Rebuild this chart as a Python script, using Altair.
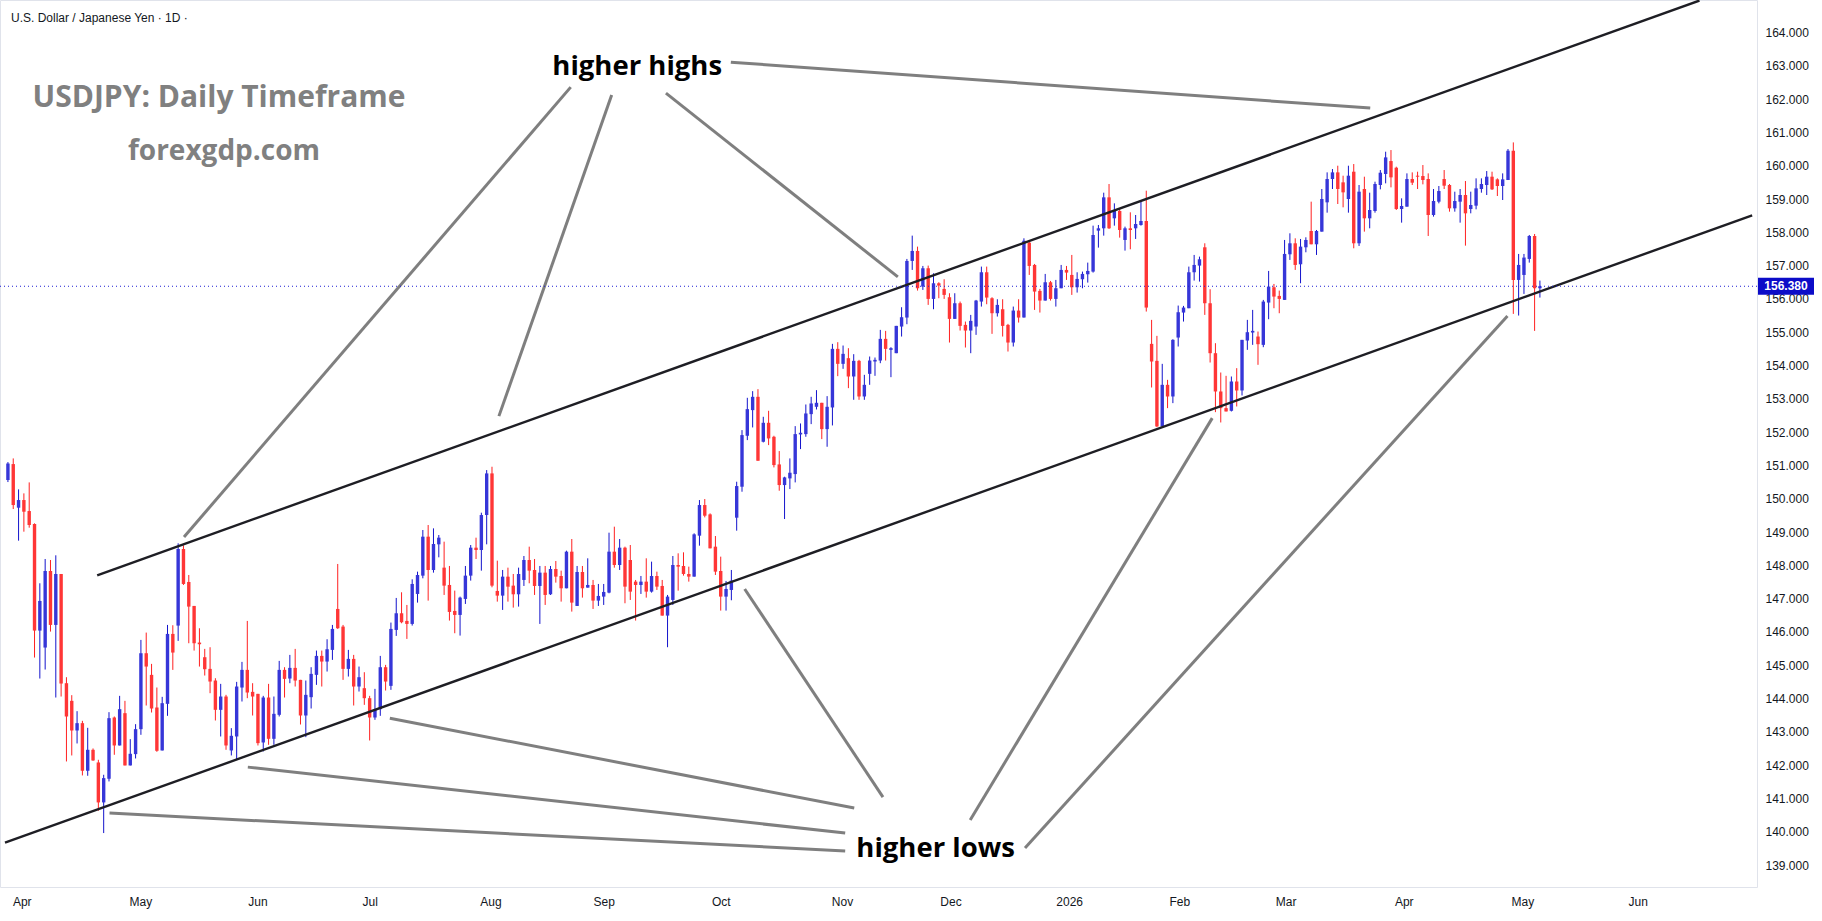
import altair as alt
import pandas as pd

# ---------------- data (daily bars, index = bar number) ----------------
opens = [150.56, 151.04, 149.73, 149.96, 149.63, 149.24, 146.04, 145.53, 147.83, 146.21,
         147.74, 144.46, 143.93, 143.04, 143.26, 141.83, 142.46, 142.08, 140.88, 141.59,
         143.43, 142.59, 143.56, 141.99, 142.33, 143.08, 145.36, 144.71, 143.73, 142.44,
         143.84, 145.94, 146.19, 148.49, 147.50, 146.78, 145.68, 145.24, 144.89, 144.54,
         143.66, 144.06, 142.44, 142.86, 144.33, 144.86, 144.20, 144.14, 142.68, 144.03,
         142.79, 143.51, 144.86, 144.60, 144.92, 144.56, 143.49, 144.04, 144.71, 145.28,
         145.11, 145.46, 146.69, 146.16, 144.89, 145.19, 144.36, 144.31, 144.01, 143.43,
         143.68, 144.94, 144.38, 146.06, 146.56, 146.33, 146.24, 147.14, 147.69, 148.86,
         147.86, 148.63, 147.93, 147.41, 146.63, 146.51, 146.99, 147.69, 148.53, 148.46,
         149.51, 150.76, 147.23, 147.09, 147.66, 147.39, 147.13, 147.56, 148.16, 147.86,
         147.38, 147.78, 147.13, 147.89, 147.68, 147.31, 148.41, 146.78, 147.80, 147.33,
         147.41, 146.94, 147.06, 147.18, 148.41, 148.01, 148.53, 148.16, 147.51, 147.41,
         147.51, 147.21, 147.68, 147.38, 146.49, 146.96, 148.01, 147.98, 147.74, 147.66,
         148.89, 149.81, 149.53, 148.56, 147.83, 147.06, 147.26, 149.43, 150.36, 151.89,
         152.66, 153.06, 151.71, 152.28, 151.86, 151.03, 150.41, 150.61, 150.74, 151.93,
         151.94, 152.54, 152.76, 152.88, 152.09, 152.74, 154.50, 154.05, 154.22, 153.67,
         154.14, 153.07, 153.75, 154.15, 154.15, 154.80, 154.50, 154.37, 155.17, 155.44,
         157.14, 157.44, 156.37, 156.92, 156.00, 156.47, 156.30, 156.05, 155.40, 155.87,
         155.22, 155.05, 155.17, 155.92, 156.80, 156.02, 155.57, 155.69, 155.22, 154.69,
         155.65, 155.44, 157.69, 157.02, 156.24, 155.95, 156.50, 156.00, 156.32, 156.87,
         156.72, 156.35, 156.59, 156.74, 156.82, 158.05, 158.12, 159.05, 158.42, 158.64,
         157.77, 158.12, 158.12, 158.22, 158.34, 154.65, 154.14, 152.17, 153.42, 153.07,
         154.84, 155.59, 155.72, 156.80, 157.00, 157.55, 155.87, 154.37, 153.22, 152.72,
         152.64, 153.52, 153.25, 154.75, 155.02, 154.87, 154.62, 155.89, 156.35, 156.09,
         155.97, 157.34, 157.67, 157.04, 157.55, 158.04, 157.64, 158.02, 158.90, 159.60,
         159.80, 159.50, 159.00, 159.82, 157.67, 159.30, 158.42, 158.64, 159.42, 159.75,
         160.14, 159.94, 158.70, 158.77, 159.60, 159.70, 159.69, 159.60, 158.52, 158.92,
         159.60, 159.42, 158.72, 158.92, 159.12, 158.70, 158.80, 159.30, 159.42, 159.67,
         159.59, 159.39, 159.57, 160.45, 156.57, 156.72, 157.20, 157.89, 156.32]
highs = [151.10, 151.21, 150.28, 150.16, 150.49, 149.26, 147.46, 148.19, 148.16, 148.30,
         147.74, 144.64, 144.10, 143.62, 143.33, 143.12, 142.50, 142.16, 141.71, 143.59,
         143.46, 144.08, 143.93, 142.78, 143.23, 145.76, 145.98, 145.04, 144.33, 144.05,
         146.21, 146.20, 148.66, 148.60, 147.71, 146.78, 146.11, 145.49, 145.54, 144.61,
         144.44, 144.11, 143.11, 144.50, 145.10, 146.33, 144.46, 144.14, 144.08, 144.44,
         144.06, 145.13, 144.94, 145.31, 145.49, 144.56, 144.54, 144.94, 145.44, 145.44,
         145.78, 146.21, 148.04, 146.21, 145.46, 145.31, 144.96, 144.79, 144.08, 144.29,
         145.28, 145.01, 146.28, 147.02, 147.19, 146.81, 147.58, 147.81, 149.06, 149.21,
         149.11, 148.91, 148.71, 147.98, 147.24, 147.06, 147.98, 148.61, 148.83, 149.58,
         150.86, 150.96, 148.14, 147.86, 147.93, 147.74, 147.93, 148.28, 148.56, 148.19,
         147.98, 147.98, 147.98, 148.13, 147.84, 148.44, 148.79, 147.98, 147.98, 148.21,
         147.56, 147.44, 147.44, 148.98, 149.16, 148.79, 148.56, 148.61, 147.56, 147.68,
         148.21, 148.11, 147.81, 147.56, 147.11, 148.28, 148.36, 148.39, 147.96, 148.96,
         149.96, 149.99, 149.56, 148.88, 148.26, 147.53, 147.86, 150.51, 152.06, 153.03,
         153.23, 153.29, 152.46, 152.64, 151.89, 151.43, 150.66, 151.21, 152.18, 152.26,
         152.83, 153.06, 153.26, 152.88, 153.08, 154.65, 154.70, 154.60, 154.52, 154.34,
         154.17, 153.72, 154.27, 154.24, 155.07, 155.04, 154.55, 155.19, 155.75, 157.20,
         157.90, 157.57, 156.99, 157.00, 156.77, 156.50, 156.59, 156.17, 156.17, 155.92,
         155.32, 155.52, 155.97, 156.97, 156.97, 156.05, 155.99, 155.99, 155.25, 155.77,
         155.99, 157.82, 157.74, 157.05, 156.30, 156.75, 156.54, 156.57, 157.02, 156.99,
         157.32, 156.80, 156.82, 157.09, 158.20, 158.22, 159.19, 159.45, 158.87, 158.70,
         158.17, 158.60, 158.52, 158.92, 159.25, 155.37, 154.89, 154.05, 153.57, 154.79,
         155.80, 155.79, 156.97, 157.32, 157.27, 157.67, 156.29, 154.67, 153.79, 153.69,
         153.67, 153.92, 154.77, 155.37, 155.67, 155.02, 155.97, 156.84, 156.45, 156.25,
         157.77, 157.97, 157.82, 157.80, 157.85, 158.92, 158.07, 159.30, 159.80, 159.90,
         160.00, 159.70, 160.00, 160.05, 159.42, 159.67, 159.19, 159.52, 159.87, 160.42,
         160.47, 159.97, 159.02, 159.77, 159.80, 159.82, 160.02, 159.77, 159.30, 159.39,
         159.87, 159.45, 159.22, 159.30, 159.54, 159.22, 159.62, 159.62, 159.84, 159.82,
         159.62, 159.77, 160.50, 160.70, 157.35, 157.35, 157.92, 157.95, 156.55]
lows = [150.50, 149.69, 148.74, 149.01, 149.13, 145.23, 144.60, 144.87, 146.01, 144.03,
        144.06, 142.11, 142.29, 142.65, 141.69, 141.68, 142.13, 140.63, 139.96, 141.51,
        142.31, 142.59, 141.99, 141.99, 142.20, 142.91, 143.79, 143.58, 142.40, 142.44,
        143.48, 144.86, 145.73, 147.41, 145.66, 145.44, 144.96, 144.69, 144.16, 143.34,
        142.86, 142.46, 142.29, 142.16, 143.91, 144.01, 143.49, 142.59, 142.41, 142.61,
        142.61, 143.46, 144.03, 144.46, 144.36, 143.22, 142.84, 143.70, 144.41, 144.36,
        144.81, 145.16, 146.09, 144.56, 144.66, 143.79, 144.21, 143.81, 142.74, 143.36,
        143.48, 144.24, 144.26, 145.88, 146.26, 145.79, 146.19, 146.88, 147.61, 146.94,
        147.78, 148.24, 147.11, 146.34, 145.96, 145.89, 146.84, 147.54, 148.19, 147.84,
        148.63, 147.34, 146.91, 146.66, 146.91, 146.73, 146.76, 147.38, 147.46, 147.11,
        146.24, 146.81, 147.11, 147.48, 146.91, 147.31, 146.61, 146.78, 147.03, 147.33,
        146.69, 146.78, 146.81, 147.16, 147.93, 147.86, 146.86, 146.96, 146.34, 147.14,
        147.03, 147.18, 147.26, 146.49, 145.54, 146.81, 147.24, 147.69, 147.51, 147.66,
        148.59, 149.44, 148.51, 147.71, 146.64, 146.64, 146.95, 149.04, 150.21, 151.76,
        152.14, 151.14, 151.69, 151.61, 150.94, 150.24, 149.39, 150.29, 150.49, 151.49,
        151.86, 152.24, 152.68, 151.79, 151.56, 152.20, 153.68, 153.90, 153.32, 152.97,
        152.97, 152.97, 153.42, 153.69, 154.07, 154.15, 153.65, 154.37, 154.87, 155.24,
        156.87, 156.25, 156.27, 155.82, 155.69, 156.02, 156.00, 154.69, 155.40, 155.05,
        154.54, 154.37, 154.92, 155.77, 155.84, 154.95, 155.47, 154.87, 154.42, 154.57,
        155.29, 155.44, 156.72, 155.67, 155.59, 155.95, 155.95, 155.77, 156.32, 156.57,
        156.12, 156.19, 156.32, 156.49, 156.79, 157.54, 157.90, 158.10, 158.20, 157.84,
        157.45, 157.49, 157.80, 158.20, 155.62, 153.34, 152.15, 152.17, 152.72, 152.87,
        154.57, 155.32, 155.72, 156.55, 156.52, 155.52, 154.09, 152.60, 152.29, 152.62,
        152.62, 152.77, 153.10, 154.47, 154.62, 154.02, 154.55, 155.39, 155.72, 155.57,
        155.97, 157.17, 156.87, 156.47, 157.40, 157.64, 157.32, 158.02, 158.59, 159.30,
        158.85, 158.75, 158.59, 157.52, 157.59, 158.02, 158.12, 158.59, 159.29, 159.47,
        159.35, 158.67, 158.29, 158.77, 159.42, 159.30, 159.44, 157.89, 158.47, 158.87,
        159.30, 158.62, 158.62, 158.29, 157.60, 158.57, 158.69, 159.19, 159.12, 159.27,
        159.09, 158.97, 159.57, 155.55, 155.50, 156.15, 157.09, 155.04, 156.04]
closes = [151.06, 149.81, 149.96, 149.61, 149.21, 146.04, 146.93, 147.83, 146.21, 147.74,
          144.45, 143.46, 143.04, 143.26, 141.83, 142.46, 142.14, 140.88, 141.61, 143.41,
          142.59, 143.68, 141.99, 142.34, 143.08, 145.36, 144.96, 143.70, 142.43, 143.86,
          145.94, 145.38, 148.49, 147.44, 146.76, 145.66, 145.66, 144.88, 144.51, 143.66,
          144.06, 142.59, 142.88, 144.36, 144.86, 144.18, 144.06, 142.66, 144.03, 142.79,
          143.54, 144.86, 144.59, 144.92, 144.54, 143.49, 144.11, 144.74, 145.28, 145.11,
          145.48, 146.09, 146.11, 144.89, 145.19, 144.36, 144.64, 144.01, 143.43, 143.68,
          144.94, 144.51, 146.09, 146.56, 146.29, 146.24, 147.44, 147.71, 148.86, 147.86,
          148.64, 148.83, 147.39, 146.60, 146.51, 147.03, 147.69, 148.53, 148.46, 149.51,
          150.76, 147.39, 147.09, 147.66, 147.36, 147.13, 147.74, 148.16, 147.84, 147.38,
          147.78, 147.11, 147.89, 147.66, 147.31, 148.41, 146.88, 147.80, 147.31, 147.41,
          146.94, 147.08, 147.20, 148.41, 148.01, 148.53, 147.36, 147.21, 147.41, 147.51,
          147.21, 147.68, 147.36, 146.49, 147.06, 148.01, 147.96, 147.74, 147.66, 148.93,
          149.81, 149.49, 148.51, 147.81, 147.06, 147.29, 147.54, 150.38, 151.91, 152.69,
          153.06, 151.14, 152.28, 151.81, 151.01, 150.41, 150.64, 150.78, 151.94, 151.98,
          152.56, 152.86, 152.88, 152.09, 152.76, 154.50, 154.05, 154.35, 153.67, 154.14,
          153.07, 153.42, 154.15, 154.17, 154.80, 154.50, 154.52, 155.19, 155.45, 157.14,
          157.44, 156.32, 156.92, 156.00, 156.47, 156.40, 156.12, 155.40, 155.87, 155.19,
          155.05, 155.34, 155.95, 156.80, 156.04, 155.57, 155.82, 155.19, 154.69, 155.65,
          155.44, 157.75, 156.99, 156.22, 155.95, 156.50, 156.00, 156.32, 156.87, 156.79,
          156.35, 156.60, 156.75, 156.84, 157.92, 158.12, 159.05, 158.12, 158.64, 158.07,
          158.12, 158.10, 158.25, 158.34, 155.74, 154.12, 152.17, 153.42, 153.07, 154.77,
          155.60, 155.74, 156.80, 157.02, 157.19, 155.87, 154.37, 153.22, 152.72, 152.62,
          153.52, 153.25, 154.77, 155.00, 155.04, 154.64, 155.92, 156.37, 156.07, 156.00,
          157.35, 157.67, 157.02, 157.57, 157.77, 157.64, 158.04, 159.00, 159.60, 159.80,
          159.30, 159.20, 159.70, 157.67, 159.22, 158.42, 158.67, 159.45, 159.79, 160.25,
          159.65, 158.70, 158.79, 159.60, 159.49, 159.67, 159.57, 158.52, 158.94, 159.24,
          159.40, 158.72, 158.94, 159.12, 158.57, 158.82, 159.32, 159.45, 159.67, 159.29,
          159.39, 159.59, 160.45, 156.57, 157.02, 157.24, 157.89, 156.32, 156.38]

month_ticks = [2.6, 24.9, 46.9, 68.0, 90.7, 112.0, 134.0, 156.8, 177.2, 199.5,
               220.2, 240.2, 262.4, 284.7, 306.4]
month_labels = ["Apr", "May", "Jun", "Jul", "Aug", "Sep", "Oct", "Nov", "Dec", "2026",
                "Feb", "Mar", "Apr", "May", "Jun"]
price_ticks = list(range(139, 165))
last_price = 156.38

# channel lines (bar index, price)
channel_names = ["upper", "upper", "lower", "lower"]
channel_idx = [16.78, 318.0, -0.55, 327.9]
channel_px = [147.70, 164.96, 139.67, 158.51]

# grey pointer lines: start (idx, price) -> end (idx, price)
ptr_i1 = [105.8, 113.5, 123.7, 135.9, 19.1, 45.1, 71.8, 138.5, 226.4, 281.9]
ptr_p1 = [162.36, 162.12, 162.18, 163.11, 140.56, 141.94, 143.41, 147.29, 152.42, 155.49]
ptr_i2 = [33.1, 92.3, 167.3, 256.1, 157.4, 157.4, 159.1, 164.5, 180.9, 191.2]
ptr_p2 = [148.85, 152.48, 156.66, 161.73, 139.42, 139.96, 140.71, 141.04, 140.35, 139.51]

annot_text = ["higher highs", "higher lows"]
annot_idx = [118.3, 174.4]
annot_px = [162.96, 139.48]

# ---------------- frames ----------------
n = len(opens)
bars = pd.DataFrame({
    "i": list(range(n)), "o": opens, "h": highs, "l": lows, "c": closes,
})
bars["dir"] = ["up" if c >= o else "down" for o, c in zip(opens, closes)]
bars["top"] = [max(o, c) for o, c in zip(opens, closes)]
bars["bot"] = [min(o, c) - (0.03 if abs(o - c) < 0.03 else 0) for o, c in zip(opens, closes)]

channels = pd.DataFrame({"name": channel_names, "i": channel_idx, "p": channel_px})
pointers = pd.DataFrame({"i1": ptr_i1, "p1": ptr_p1, "i2": ptr_i2, "p2": ptr_p2})
annots = pd.DataFrame({"t": annot_text, "i": annot_idx, "p": annot_px})
lastdf = pd.DataFrame({"p": [last_price], "lab": [f"{last_price:.3f}"]})

W, H = 1757, 887
XMIN, XMAX = -0.55, 327.87
YMIN, YMAX = 138.34, 164.976
xs = alt.Scale(domain=[XMIN, XMAX], nice=False, zero=False)
ys = alt.Scale(domain=[YMIN, YMAX], nice=False, zero=False)

label_expr = " : ".join(
    f"datum.value == {v} ? '{l}'" for v, l in zip(month_ticks, month_labels)
) + " : ''"

x_axis = alt.Axis(orient="bottom", values=month_ticks, labelExpr=label_expr,
                  ticks=False, domain=False, grid=False, labelColor="#131722",
                  labelFont="Liberation Sans", labelFontSize=12, labelPadding=9,
                  labelFlush=False, labelOverlap=False, title=None)
y_axis = alt.Axis(orient="right", values=price_ticks, format=".3f", ticks=False,
                  domain=False, grid=False, labelColor="#131722",
                  labelFont="Liberation Sans", labelFontSize=12, labelPadding=8,
                  labelFlush=False, labelOverlap=False, title=None)


def X(f):
    return alt.X(f, type="quantitative", scale=xs, axis=x_axis, title=None)


def Y(f):
    return alt.Y(f, type="quantitative", scale=ys, axis=y_axis, title=None)


color_wick = alt.Color("dir:N", scale=alt.Scale(domain=["up", "down"], range=["#1414cc", "#ff2020"]), legend=None)
color_body = alt.Color("dir:N", scale=alt.Scale(domain=["up", "down"], range=["#3636d8", "#ff3636"]), legend=None)

wicks = alt.Chart(bars).mark_rule(strokeWidth=1, clip=True).encode(
    x=X("i"), y=Y("l"), y2="h", color=color_wick)
bodies = alt.Chart(bars).mark_bar(size=3.4, clip=True).encode(
    x=X("i"), y=Y("bot"), y2="top", color=color_body)

chan = alt.Chart(channels).mark_line(color="#1e1e24", strokeWidth=2.4, clip=True).encode(
    x=X("i"), y=Y("p"), detail="name:N")

ptr = alt.Chart(pointers).mark_rule(color="#7f7f7f", strokeWidth=3, clip=True).encode(
    x=X("i1"), y=Y("p1"), x2="i2", y2="p2")

ann = alt.Chart(annots).mark_text(font="Open Sans", fontWeight="bold", fontSize=27.5,
                                  color="#000000", align="center", baseline="middle").encode(
    x=X("i"), y=Y("p"), text="t:N")

dotted = alt.Chart(lastdf).mark_rule(color="#1c1cd4", strokeDash=[1, 3], strokeWidth=1).encode(
    y=Y("p"))

price_box = alt.Chart(lastdf).mark_tick(orient="horizontal", size=56, thickness=17,
                                        color="#0c0cc8", opacity=1).encode(
    x=alt.value(1786), y=Y("p"))
price_txt = alt.Chart(lastdf).mark_text(color="white", font="Liberation Sans", fontSize=12,
                                        fontWeight="bold", align="center", baseline="middle").encode(
    x=alt.value(1786), y=Y("p"), text="lab:N")

one = pd.DataFrame({"k": [0]})
header = alt.Chart(one).mark_text(text="U.S. Dollar / Japanese Yen · 1D ·", font="Liberation Sans",
                                  fontSize=12, color="#131722", align="left", baseline="middle").encode(
    x=alt.value(11), y=alt.value(18))
title1 = alt.Chart(one).mark_text(text="USDJPY: Daily Timeframe", font="Open Sans", fontWeight="bold",
                                  fontSize=30, color="#808080", align="center", baseline="middle").encode(
    x=alt.value(219), y=alt.value(98))
title2 = alt.Chart(one).mark_text(text="forexgdp.com", font="Open Sans", fontWeight="bold",
                                  fontSize=28, color="#808080", align="center", baseline="middle").encode(
    x=alt.value(224), y=alt.value(152))

chart = alt.layer(
    wicks, bodies, chan, ptr, ann, dotted, price_box, price_txt, header, title1, title2
).resolve_scale(color="independent").properties(
    width=W, height=H,
    padding={"left": 0, "top": 0, "right": 1822 - W, "bottom": 921 - H},
    autosize=alt.AutoSizeParams(type="none"),
    background="white"
).configure_view(stroke="#e0e3eb", strokeWidth=1)

chart.save("out.html", embed_options={"renderer": "svg", "actions": False})
